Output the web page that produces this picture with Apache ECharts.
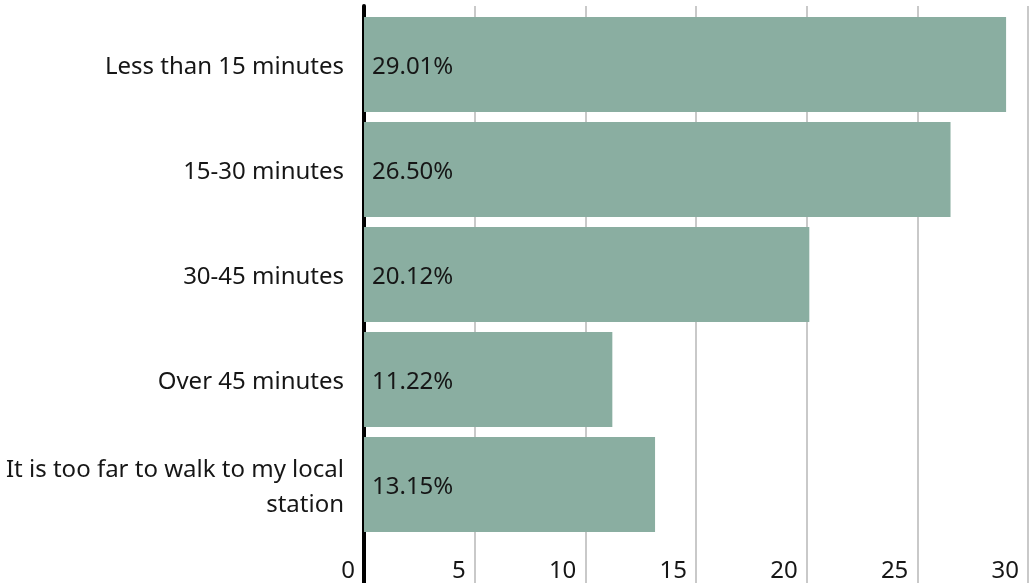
<!DOCTYPE html>
<html>
<head>
<meta charset="utf-8">
<style>
  html, body { margin: 0; padding: 0; background: #fff; }
  #chart { width: 1035px; height: 583px; }
</style>
<script src="https://cdn.jsdelivr.net/npm/echarts@6/dist/echarts.min.js"></script>
</head>
<body>
<div id="chart"></div>
<script>
// Walking time to the local station, share of respondents (%)
const categories = [
  'Less than 15 minutes',
  '15-30 minutes',
  '30-45 minutes',
  'Over 45 minutes',
  'It is too far to walk to my local\nstation'
];
const shares = [29.01, 26.50, 20.12, 11.22, 13.15];
const axisMin = 0;
const axisMax = 30;
const axisStep = 5;

const FONT = '"Noto Sans", "Open Sans", sans-serif';
const TEXT = '#161616';
const BAR = '#8aaea1';
const SIZE = 24;

const chart = echarts.init(document.getElementById('chart'), null, { renderer: 'canvas' });

chart.setOption({
  animation: false,
  backgroundColor: '#ffffff',
  grid: [
    // bars
    { left: 364, right: 7, top: 12, height: 525 },
    // full-height frame: gridlines, tick labels, vertical axis line
    { left: 364, right: 7, top: 6, bottom: 0 }
  ],
  xAxis: [
    {
      gridIndex: 0, type: 'value', min: axisMin, max: axisMax, interval: axisStep,
      show: false
    },
    {
      gridIndex: 1, type: 'value', min: axisMin, max: axisMax, interval: axisStep,
      position: 'bottom',
      axisLine: { show: false },
      axisTick: { show: false },
      splitLine: { show: true, lineStyle: { color: '#c9c9c9', width: 2 } },
      axisLabel: {
        inside: true,
        align: 'right',
        verticalAlign: 'middle',
        margin: 12,
        padding: [0, 9, 0, 0],
        showMinLabel: true,
        showMaxLabel: true,
        color: TEXT,
        fontFamily: FONT,
        fontSize: SIZE
      }
    }
  ],
  yAxis: [
    {
      gridIndex: 0, type: 'category', data: categories, inverse: true,
      axisLine: { show: false },
      axisTick: { show: false },
      splitLine: { show: false },
      axisLabel: {
        margin: 20,
        align: 'right',
        // each line wrapped in a rich block so it can sit a touch lower
        formatter: v => v.split('\n').map(s => '{t|' + s + '}').join('\n'),
        rich: {
          t: {
            color: TEXT,
            fontFamily: FONT,
            fontSize: SIZE,
            lineHeight: 35,
            padding: [6, 0, 0, 0]
          }
        }
      }
    },
    {
      gridIndex: 1, type: 'value', min: 0, max: 1,
      axisLine: { show: true, onZero: false, lineStyle: { color: '#000000', width: 4 } },
      axisTick: { show: false },
      axisLabel: { show: false },
      splitLine: { show: false }
    }
  ],
  series: [
    {
      type: 'bar',
      xAxisIndex: 0,
      yAxisIndex: 0,
      data: shares,
      barCategoryGap: '9.5%',
      itemStyle: { color: BAR },
      label: {
        show: true,
        position: 'insideLeft',
        distance: 8,
        offset: [0, 3],
        formatter: p => p.value.toFixed(2) + '%',
        color: TEXT,
        fontFamily: FONT,
        fontSize: SIZE
      },
      z: 3
    }
  ]
});
</script>
</body>
</html>
